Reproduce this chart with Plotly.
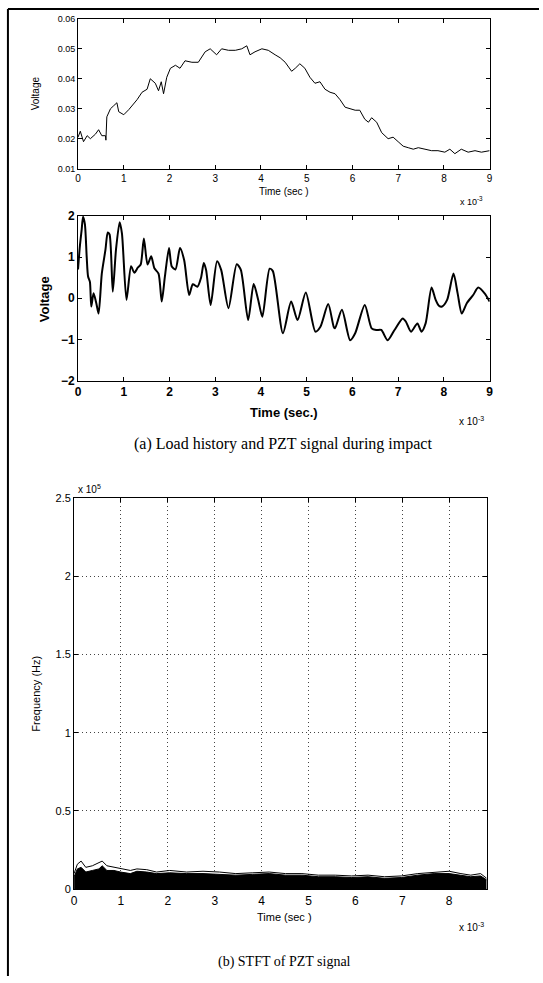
import plotly.graph_objects as go

W, H = 543, 983

# ---------------- data (time in ms, i.e. x 10^-3 s) ----------------
load_t = [0.00, 0.05, 0.12, 0.20, 0.27, 0.38, 0.45, 0.52, 0.60, 0.61, 0.63, 0.71, 0.78, 0.85,
          0.89, 1.00, 1.11, 1.18, 1.29, 1.40, 1.51, 1.58, 1.69, 1.76, 1.82, 1.87, 1.94, 2.02,
          2.13, 2.23, 2.34, 2.49, 2.63, 2.78, 2.89, 3.03, 3.14, 3.29, 3.44, 3.58, 3.69, 3.76,
          3.87, 4.02, 4.16, 4.31, 4.42, 4.53, 4.67, 4.75, 4.85, 4.96, 5.07, 5.18, 5.29, 5.40,
          5.51, 5.62, 5.73, 5.84, 5.95, 6.06, 6.16, 6.27, 6.35, 6.42, 6.53, 6.64, 6.78, 6.89,
          7.00, 7.11, 7.22, 7.33, 7.44, 7.58, 7.73, 7.87, 8.02, 8.13, 8.24, 8.38, 8.53, 8.68,
          8.82, 9.00]
load_v = [0.0205, 0.0225, 0.0190, 0.0210, 0.0200, 0.0215, 0.0230, 0.0210, 0.0210, 0.0195, 0.0273, 0.0300, 0.0310, 0.0320,
          0.0290, 0.0280, 0.0297, 0.0310, 0.0330, 0.0355, 0.0365, 0.0400, 0.0385, 0.0360, 0.0390, 0.0350, 0.0405, 0.0435,
          0.0445, 0.0435, 0.0460, 0.0455, 0.0455, 0.0490, 0.0500, 0.0480, 0.0500, 0.0495, 0.0495, 0.0500, 0.0510, 0.0480,
          0.0490, 0.0500, 0.0495, 0.0480, 0.0470, 0.0455, 0.0425, 0.0435, 0.0450, 0.0435, 0.0405, 0.0385, 0.0390, 0.0365,
          0.0355, 0.0350, 0.0330, 0.0305, 0.0300, 0.0295, 0.0295, 0.0265, 0.0255, 0.0270, 0.0255, 0.0220, 0.0200, 0.0205,
          0.0190, 0.0175, 0.0170, 0.0165, 0.0170, 0.0165, 0.0160, 0.0160, 0.0155, 0.0165, 0.0150, 0.0165, 0.0155, 0.0160,
          0.0155, 0.0160]

pzt_t = [0.00, 0.04, 0.08, 0.11, 0.15, 0.19, 0.22, 0.26, 0.29, 0.34, 0.40, 0.45, 0.52, 0.60, 0.65, 0.69,
         0.76, 0.83, 0.91, 0.96, 1.06, 1.16, 1.23, 1.31, 1.37, 1.44, 1.52, 1.60, 1.67, 1.76, 1.83, 1.90,
         1.99, 2.05, 2.13, 2.23, 2.32, 2.43, 2.51, 2.61, 2.69, 2.75, 2.80, 2.90, 3.04, 3.13, 3.29, 3.47,
         3.56, 3.72, 3.84, 3.94, 4.03, 4.19, 4.26, 4.48, 4.66, 4.80, 4.98, 5.19, 5.30, 5.47, 5.59, 5.62,
         5.77, 5.95, 6.06, 6.27, 6.42, 6.52, 6.63, 6.77, 6.92, 7.10, 7.17, 7.28, 7.42, 7.51, 7.60, 7.73,
         7.82, 7.89, 7.96, 8.07, 8.21, 8.30, 8.39, 8.50, 8.64, 8.75, 8.89, 9.00]
pzt_v = [0.70, 1.26, 1.67, 1.98, 1.80, 1.00, 0.53, 0.40, -0.20, 0.12, -0.12, -0.37, 0.60, 1.18, 1.60, 1.55,
         0.16, 1.18, 1.85, 1.58, -0.04, 0.78, 0.62, 0.75, 0.82, 1.45, 0.82, 1.02, 0.73, 0.60, -0.08, 0.53,
         1.22, 0.77, 0.70, 1.22, 0.93, 0.08, 0.34, 0.28, 0.50, 0.86, 0.69, -0.16, 0.90, 0.69, -0.24, 0.83,
         0.69, -0.53, 0.35, -0.04, -0.45, 0.72, 0.66, -0.85, -0.08, -0.53, 0.14, -0.81, -0.69, -0.14, -0.69, -0.73,
         -0.28, -1.02, -0.85, -0.16, -0.73, -0.77, -0.77, -1.02, -0.77, -0.49, -0.57, -0.81, -0.61, -0.81, -0.61, 0.26,
         -0.04, -0.18, -0.20, -0.04, 0.60, 0.12, -0.37, -0.12, 0.08, 0.26, 0.12, -0.08]

# STFT contour extent (frequency in units of 10^5 Hz)
stft_t = [0.00, 0.07, 0.15, 0.25, 0.39, 0.53, 0.60, 0.70, 0.85, 0.99, 1.20, 1.34, 1.55, 1.76, 2.04,
          2.40, 2.75, 3.10, 3.45, 3.80, 4.16, 4.51, 4.86, 5.21, 5.57, 5.92, 6.27, 6.62, 6.98, 7.33,
          7.68, 8.00, 8.25, 8.46, 8.67, 8.80]
stft_outer = [0.10, 0.16, 0.18, 0.14, 0.15, 0.17, 0.18, 0.15, 0.14, 0.13, 0.12, 0.13, 0.125, 0.11, 0.12,
              0.11, 0.115, 0.11, 0.10, 0.105, 0.11, 0.10, 0.10, 0.09, 0.09, 0.085, 0.09, 0.08, 0.085, 0.10,
              0.11, 0.115, 0.10, 0.09, 0.10, 0.07]
stft_inner = [0.08, 0.13, 0.14, 0.11, 0.12, 0.13, 0.15, 0.12, 0.12, 0.11, 0.10, 0.115, 0.11, 0.10, 0.105,
              0.10, 0.10, 0.095, 0.09, 0.095, 0.10, 0.09, 0.09, 0.08, 0.08, 0.075, 0.08, 0.07, 0.075, 0.09,
              0.10, 0.10, 0.09, 0.08, 0.085, 0.06]

top_yticks = [0.01, 0.02, 0.03, 0.04, 0.05, 0.06]
top_yticktext = ["0.01", "0.02", "0.03", "0.04", "0.05", "0.06"]
time_ticks = [0, 1, 2, 3, 4, 5, 6, 7, 8, 9]
stft_time_ticks = [0, 1, 2, 3, 4, 5, 6, 7, 8]
freq_ticks = [0, 0.5, 1, 1.5, 2, 2.5]
freq_ticktext = ["0", "0.5", "1", "1.5", "2", "2.5"]

# ---------------- layout helpers ----------------
def px(x):
    return x / W

def py(y):
    return 1 - y / H

SANS = "Liberation Sans, Arial, sans-serif"
SERIF = "Liberation Serif, Times New Roman, serif"

fig = go.Figure()
fig.add_trace(go.Scatter(x=load_t, y=load_v, mode="lines",
                         line=dict(color="black", width=1), xaxis="x", yaxis="y"))
fig.add_trace(go.Scatter(x=pzt_t, y=pzt_v, mode="lines",
                         line=dict(color="black", width=2, shape="spline", smoothing=0.7),
                         xaxis="x2", yaxis="y2"))
fig.add_trace(go.Scatter(x=stft_t, y=stft_outer, mode="lines",
                         line=dict(color="black", width=1), xaxis="x3", yaxis="y3"))
fig.add_trace(go.Scatter(x=stft_t, y=stft_inner, mode="lines", fill="tozeroy",
                         fillcolor="black", line=dict(color="black", width=1),
                         xaxis="x3", yaxis="y3"))

def axis(domain, rng, tickvals, ticktext=None, size=10, bold=False, anchor=None, grid=False):
    d = dict(domain=domain, range=rng, tickmode="array", tickvals=tickvals,
             showline=True, linecolor="black", linewidth=1, mirror="ticks",
             ticks="inside", ticklen=4, tickcolor="black", zeroline=False,
             showgrid=grid, fixedrange=True,
             tickfont=dict(family=SANS, size=size, color="black",
                           weight="bold" if bold else "normal"))
    if ticktext is not None:
        d["ticktext"] = ticktext
    if anchor:
        d["anchor"] = anchor
    if grid:
        d.update(gridcolor="#444444", griddash="1px,3px", gridwidth=1)
    return d

fig.update_layout(
    width=W, height=H, autosize=False,
    margin=dict(l=0, r=0, t=0, b=0),
    paper_bgcolor="white", plot_bgcolor="white",
    showlegend=False,
    xaxis=axis([px(76), px(493)], [0, 9], time_ticks, size=10, anchor="y"),
    yaxis=axis([py(164), py(12)], [0.01, 0.06], top_yticks, top_yticktext, size=9, anchor="x"),
    xaxis2=axis([px(76), px(493)], [0, 9], time_ticks, size=12, bold=True, anchor="y2"),
    yaxis2=axis([py(379), py(212)], [-2, 2], [-2, -1, 0, 1, 2], size=12, bold=True, anchor="x2"),
    xaxis3=axis([px(72), px(490)], [0, 8.8], stft_time_ticks, size=12, anchor="y3", grid=True),
    yaxis3=axis([py(895), py(498)], [0, 2.5], freq_ticks, freq_ticktext, size=11, anchor="x3", grid=True),
)

def note(text, x, y, size=10, family=SANS, angle=0, xanchor="center", yanchor="middle", bold=False):
    if bold:
        text = "<b>" + text + "</b>"
    fig.add_annotation(text=text, x=px(x), y=py(y), xref="paper", yref="paper",
                       showarrow=False, textangle=angle, xanchor=xanchor, yanchor=yanchor,
                       font=dict(family=family, size=size, color="black"))

# top plot labels
note("Voltage", 33, 88, size=10, angle=-90)
note("Time (sec )", 285, 187, size=10)
note("x 10<sup>-3</sup>", 475, 197, size=9)
# middle plot labels
note("Voltage", 42, 296, size=13, angle=-90, bold=True)
note("Time (sec.)", 285, 411, size=13, bold=True)
note("x 10<sup>-3</sup>", 475, 420, size=10)
note("(a) Load history and PZT signal during impact", 284, 443, size=16, family=SERIF)
# bottom plot labels
note("x 10<sup>5</sup>", 88, 489, size=10)
note("Frequency (Hz)", 33, 697, size=11, angle=-90)
note("Time (sec )", 285, 923, size=11)
note("x 10<sup>-3</sup>", 475, 933, size=10)
note("(b) STFT of PZT signal", 285, 969, size=14, family=SERIF)

# outer frame of the scanned figure
fig.add_shape(type="line", xref="paper", yref="paper", x0=px(5), x1=1, y0=py(2), y1=py(2),
              line=dict(color="black", width=2))
fig.add_shape(type="line", xref="paper", yref="paper", x0=px(5), x1=px(5), y0=py(2), y1=0,
              line=dict(color="black", width=2))

fig.write_html("out.html")
